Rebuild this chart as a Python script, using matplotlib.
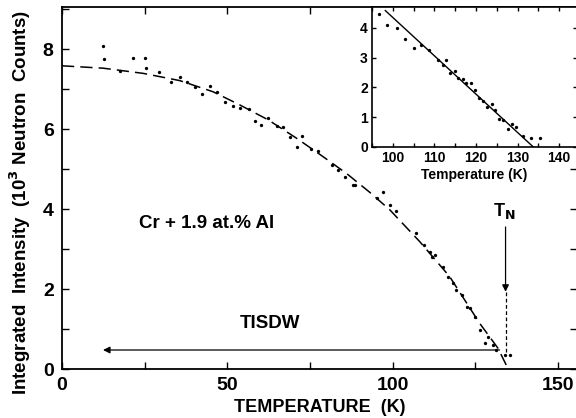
import numpy as np
import matplotlib
matplotlib.use("Agg")
import matplotlib.pyplot as plt
from matplotlib.ticker import MultipleLocator

plt.rcParams["font.family"] = ["Liberation Sans", "DejaVu Sans"]
plt.rcParams["font.weight"] = "bold"

# ── Main panel: measured intensity (10^3 counts) vs temperature (K) ─────────
main_T = [12.3, 12.8, 17.5, 21.4, 25.2, 25.3, 29.4, 33.1, 35.6, 37.7, 40.2,
          42.3, 44.7, 46.9, 49.2, 51.8, 53.8, 56.6, 58.3, 60.3, 62.3, 64.9,
          66.9, 68.9, 70.9, 72.7, 75.4, 77.4, 81.5, 83.5, 85.5, 88.0, 88.5,
          95.1, 97.1, 99.1, 101.1, 106.9, 109.4, 111.4, 112.0, 112.7, 115.2,
          116.7, 118.2, 119.2, 120.8, 122.3, 123.5, 124.8, 126.3, 127.8,
          128.8, 130.3, 131.3, 133.8, 135.3]
main_I = [8.08, 7.75, 7.45, 7.77, 7.77, 7.53, 7.43, 7.18, 7.30, 7.17, 7.05,
          6.88, 7.08, 6.93, 6.68, 6.58, 6.52, 6.49, 6.21, 6.10, 6.27, 6.08,
          6.06, 5.79, 5.54, 5.83, 5.49, 5.46, 5.10, 4.98, 4.81, 4.60, 4.60,
          4.27, 4.43, 4.10, 3.96, 3.41, 3.10, 2.93, 2.81, 2.85, 2.54,
          2.31, 2.14, 1.98, 1.85, 1.56, 1.52, 1.31, 0.98, 0.64,
          0.81, 0.60, 0.48, 0.35, 0.35]

# dashed fit curve
fit_T = [0.0, 12.5, 24.6, 35.6, 45.7, 53.8, 62.3, 70.9, 78.9, 86.0, 93.0,
         99.1, 108.2, 117.2, 126.3, 131.8, 134.3]
fit_I = [7.58, 7.52, 7.39, 7.21, 6.93, 6.60, 6.23, 5.77, 5.31, 4.89, 4.42,
         3.98, 3.18, 2.31, 1.14, 0.52, 0.10]

# ── Inset: close-up near T_N ─────────────────────────────────────────────────
ins_T = [96.7, 98.7, 100.9, 102.9, 105.1, 106.9, 108.8, 110.8, 112.0, 112.9,
         113.7, 114.9, 115.7, 116.8, 117.6, 118.8, 119.8, 120.8, 121.8, 122.7,
         123.8, 124.6, 125.6, 126.6, 127.6, 128.6, 129.6, 131.3, 133.3, 135.3]
ins_I = [4.46, 4.08, 3.99, 3.61, 3.32, 3.41, 3.25, 2.92, 2.75, 2.92,
         2.47, 2.54, 2.32, 2.27, 2.14, 2.16, 1.92, 1.65, 1.54, 1.34,
         1.45, 1.23, 0.94, 0.91, 0.60, 0.76, 0.67, 0.38, 0.29, 0.31]
ins_line_T = [98.2, 133.8]
ins_line_I = [4.58, 0.0]

T_N = 134.1
ARROW_Y = 0.475

fig = plt.figure(figsize=(5.76, 4.18), dpi=100)
ax = fig.add_axes([62 / 576, 1 - 369 / 418, 515 / 576, 362 / 418])

ax.plot(main_T, main_I, "o", color="k", ms=2.4, mec="none")
ax.plot(fit_T, fit_I, color="k", lw=1.1, dashes=(8, 4))

ax.set_xlim(0, 155.7)
ax.set_ylim(0, 9.05)
ax.xaxis.set_major_locator(MultipleLocator(50))
ax.xaxis.set_minor_locator(MultipleLocator(25))
ax.yaxis.set_major_locator(MultipleLocator(2))
ax.yaxis.set_minor_locator(MultipleLocator(1))
ax.tick_params(which="both", direction="in", top=True, right=True,
               width=1.0, labelsize=14)
ax.tick_params(which="major", length=5, pad=6)
ax.tick_params(which="minor", length=5)
for lab in ax.get_xticklabels() + ax.get_yticklabels():
    lab.set_fontweight("bold")
for s in ax.spines.values():
    s.set_linewidth(1.3)

ax.set_xlabel("TEMPERATURE  (K)", fontsize=13, fontweight="bold", labelpad=3)
ax.set_ylabel("Integrated  Intensity  (10$^\\mathbf{3}$ Neutron  Counts)",
              fontsize=13.5, fontweight="bold")
ax.yaxis.set_label_coords(-0.056, 0.46)

ax.text(43.8, 3.65, "Cr + 1.9 at.% Al", fontsize=13.5, fontweight="bold",
        ha="center", va="center")
ax.text(62.8, 1.15, "TISDW", fontsize=13.5, fontweight="bold",
        ha="center", va="center")
ax.annotate("", xy=(12.4, ARROW_Y), xytext=(132.3, ARROW_Y),
            arrowprops=dict(arrowstyle="-|>", color="k", lw=0.9,
                            mutation_scale=10, shrinkA=0, shrinkB=0))
ax.text(T_N - 0.3, 3.95, "T$_\\mathbf{N}$", fontsize=13, fontweight="bold",
        ha="center", va="center")
ax.annotate("", xy=(T_N, 1.93), xytext=(T_N, 3.55),
            arrowprops=dict(arrowstyle="-|>", color="k", lw=0.9,
                            mutation_scale=10, shrinkA=0, shrinkB=0))
ax.plot([T_N, T_N], [1.93, 0.35], color="k", lw=0.9, dashes=(3, 2))

# inset
axi = fig.add_axes([372 / 576, 1 - 147 / 418, 205 / 576, 140 / 418])
axi.plot(ins_T, ins_I, "o", color="k", ms=2.4, mec="none")
axi.plot(ins_line_T, ins_line_I, color="k", lw=1.0)
axi.set_xlim(95, 144.3)
axi.set_ylim(0, 4.7)
axi.xaxis.set_major_locator(MultipleLocator(10))
axi.xaxis.set_minor_locator(MultipleLocator(5))
axi.yaxis.set_major_locator(MultipleLocator(1))
axi.tick_params(which="both", direction="in", top=True, right=True,
                length=3, width=1.0, labelsize=10, pad=3)
for lab in axi.get_xticklabels() + axi.get_yticklabels():
    lab.set_fontweight("bold")
for s in axi.spines.values():
    s.set_linewidth(1.2)
axi.set_xlabel("Temperature (K)", fontsize=10, fontweight="bold", labelpad=2)

fig.savefig("out.png", dpi=100)
